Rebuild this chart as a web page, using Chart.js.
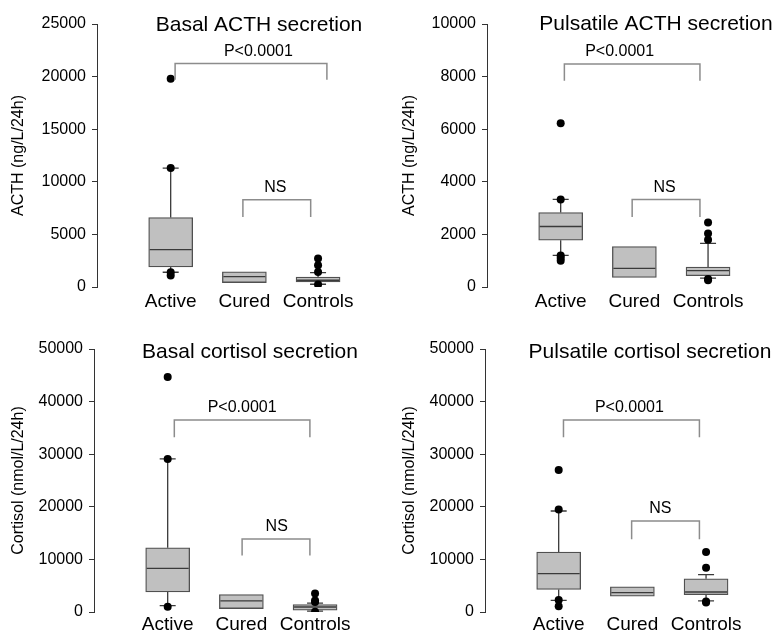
<!DOCTYPE html>
<html>
<head>
<meta charset="utf-8">
<script src="https://cdn.jsdelivr.net/npm/chart.js@4.4.1/dist/chart.umd.min.js"></script>
<style>
  body { margin: 0; background: #fff; }
  canvas { position: absolute; }
</style>
</head>
<body>
<canvas id="p1" width="391" height="317" style="left:0;top:0"></canvas>
<canvas id="p2" width="391" height="317" style="left:391px;top:0"></canvas>
<canvas id="p3" width="391" height="318" style="left:0;top:317px"></canvas>
<canvas id="p4" width="391" height="318" style="left:391px;top:317px"></canvas>
<script>
const categories = ['Active', 'Cured', 'Controls']
const positions = [1, 2, 3]

// Basal ACTH secretion (ng/L/24h)
const acthBasalQ1 = [1900, 420, 480]
const acthBasalMedian = [3550, 990, 640]
const acthBasalQ3 = [6600, 1450, 950]
const acthBasalLow = [1400, null, 260]
const acthBasalHigh = [11300, null, 1370]
const acthBasalOutliers = [[19800, 11300, 1400, 1100], [], [2700, 2070, 1430, 230]]
const acthBasalTicks = [0, 5000, 10000, 15000, 20000, 25000]

// Pulsatile ACTH secretion (ng/L/24h)
const acthPulseQ1 = [1780, 360, 430]
const acthPulseMedian = [2300, 710, 620]
const acthPulseQ3 = [2830, 1540, 760]
const acthPulseLow = [1200, null, 340]
const acthPulseHigh = [3330, null, 1660]
const acthPulseOutliers = [[6230, 3330, 1200, 1100, 1000], [], [2450, 2030, 1800, 300, 260]]
const acthPulseTicks = [0, 2000, 4000, 6000, 8000, 10000]

// Basal cortisol secretion (nmol/L/24h)
const cortBasalQ1 = [3800, 650, 350]
const cortBasalMedian = [8300, 2100, 950]
const cortBasalQ3 = [12200, 3300, 1400]
const cortBasalLow = [1200, null, 150]
const cortBasalHigh = [29100, null, 1700]
const cortBasalOutliers = [[44700, 29100, 1000], [], [3500, 2200, 1900, 50]]
const cortBasalTicks = [0, 10000, 20000, 30000, 40000, 50000]

// Pulsatile cortisol secretion (nmol/L/24h)
const cortPulseQ1 = [4300, 3000, 3300]
const cortPulseMedian = [7300, 3700, 3800]
const cortPulseQ3 = [11400, 4800, 6300]
const cortPulseLow = [2200, null, 2100]
const cortPulseHigh = [19200, null, 7100]
const cortPulseOutliers = [[27000, 19500, 2300, 1100], [], [11400, 8400, 2000, 1800]]
const cortPulseTicks = [0, 10000, 20000, 30000, 40000, 50000]

// significance brackets: [label, from, to, top, foot, labelX]
const acthBasalSig = [['P<0.0001', 1.06, 3.12, 21250, 19700, 2.19], ['NS', 1.98, 2.9, 8300, 6650, 2.42]]
const acthPulseSig = [['P<0.0001', 1.05, 2.89, 8480, 7840, 1.8], ['NS', 1.97, 2.89, 3330, 2665, 2.41]]
const cortBasalSig = [['P<0.0001', 1.09, 2.93, 36500, 33200, 2.01], ['NS', 2.01, 2.93, 13900, 10750, 2.48]]
const cortPulseSig = [['P<0.0001', 1.065, 2.91, 36500, 33200, 1.96], ['NS', 1.99, 2.91, 17300, 13850, 2.38]]

const FONT = "'Liberation Sans', Arial, sans-serif"
Chart.defaults.font.family = FONT
Chart.defaults.color = '#000'

const boxExtras = {
  id: 'boxExtras',
  afterDatasetDraw(chart, args, o) {
    if (args.index !== 0) return
    const ctx = chart.ctx
    const x = chart.scales.x
    const y = chart.scales.y
    ctx.save()
    ctx.strokeStyle = '#3a3a3a'
    ctx.lineWidth = 1.3
    positions.forEach((p, i) => {
      const cx = x.getPixelForValue(p)
      ctx.beginPath()
      ctx.moveTo(cx - 21, y.getPixelForValue(o.median[i]))
      ctx.lineTo(cx + 21, y.getPixelForValue(o.median[i]))
      if (o.high[i] != null) {
        const hy = y.getPixelForValue(o.high[i])
        ctx.moveTo(cx, y.getPixelForValue(o.q3[i]))
        ctx.lineTo(cx, hy)
        ctx.moveTo(cx - 8, hy)
        ctx.lineTo(cx + 8, hy)
      }
      if (o.low[i] != null) {
        const ly = y.getPixelForValue(o.low[i])
        ctx.moveTo(cx, y.getPixelForValue(o.q1[i]))
        ctx.lineTo(cx, ly)
        ctx.moveTo(cx - 8, ly)
        ctx.lineTo(cx + 8, ly)
      }
      ctx.stroke()
    })
    ctx.restore()
  },
  afterDraw(chart, args, o) {
    const ctx = chart.ctx
    const x = chart.scales.x
    const y = chart.scales.y
    ctx.save()
    o.sig.forEach(s => {
      const x1 = x.getPixelForValue(s[1])
      const x2 = x.getPixelForValue(s[2])
      const top = y.getPixelForValue(s[3])
      const foot = y.getPixelForValue(s[4])
      ctx.strokeStyle = '#8c8c8c'
      ctx.lineWidth = 1.5
      ctx.beginPath()
      ctx.moveTo(x1, foot)
      ctx.lineTo(x1, top)
      ctx.lineTo(x2, top)
      ctx.lineTo(x2, foot)
      ctx.stroke()
      ctx.fillStyle = '#000'
      ctx.font = '16px ' + FONT
      ctx.textAlign = 'center'
      ctx.textBaseline = 'middle'
      ctx.fillText(s[0], x.getPixelForValue(s[5]), top - 12)
    })
    ctx.font = '21px ' + FONT
    ctx.textAlign = 'center'
    ctx.textBaseline = 'middle'
    ctx.fillStyle = '#000'
    ctx.fillText(o.title, o.titleX, o.titleY)
    ctx.restore()
  }
}

function boxChart(id, p) {
  new Chart(document.getElementById(id), {
    type: 'bar',
    data: {
      datasets: [
        {
          type: 'bar',
          data: positions.map((pos, i) => ({x: pos, y: [p.q1[i], p.q3[i]]})),
          backgroundColor: '#c0c0c0',
          borderColor: '#505050',
          borderWidth: 1.3,
          borderSkipped: false,
          barThickness: 44,
          order: 0
        },
        {
          type: 'scatter',
          data: p.outliers.flatMap((vals, i) => vals.map(v => ({x: positions[i], y: v}))),
          pointRadius: 4,
          pointBackgroundColor: '#000',
          pointBorderWidth: 0,
          order: -1
        }
      ]
    },
    options: {
      responsive: false,
      animation: false,
      layout: { padding: { left: 0, right: p.padRight, top: p.top, bottom: 0 } },
      plugins: {
        legend: { display: false },
        tooltip: { enabled: false },
        boxExtras: {
          q1: p.q1, q3: p.q3, median: p.median, low: p.low, high: p.high,
          sig: p.sig, title: p.title, titleX: p.titleX, titleY: p.titleY
        }
      },
      scales: {
        x: {
          type: 'linear',
          min: 0,
          max: 3.8,
          offset: false,
          grid: { display: false, drawTicks: false },
          border: { display: false },
          afterBuildTicks: s => { s.ticks = positions.map(v => ({value: v})) },
          afterFit: s => { s.height = p.xHeight },
          ticks: {
            padding: p.xPad,
            font: { size: 19 },
            callback: v => categories[positions.indexOf(v)]
          }
        },
        y: {
          min: p.ticks[0],
          max: p.ticks[p.ticks.length - 1],
          grid: { drawOnChartArea: false, drawTicks: true, tickLength: 5, color: '#333' },
          border: { display: true, color: '#333', width: 1 },
          afterBuildTicks: s => { s.ticks = p.ticks.map(v => ({value: v})) },
          afterFit: s => { s.width = p.axisX },
          ticks: { padding: 6, font: { size: 16 }, callback: v => String(v) },
          title: { display: true, text: p.yTitle, font: { size: 16 }, padding: { top: 9, bottom: 0 } }
        }
      }
    },
    plugins: [boxExtras]
  })
}

boxChart('p1', {
  q1: acthBasalQ1, median: acthBasalMedian, q3: acthBasalQ3, low: acthBasalLow, high: acthBasalHigh,
  outliers: acthBasalOutliers, ticks: acthBasalTicks, sig: acthBasalSig,
  title: 'Basal ACTH secretion', yTitle: 'ACTH (ng/L/24h)',
  titleX: 259, titleY: 25, axisX: 97, padRight: 14, top: 24, xHeight: 30, xPad: 3
})
boxChart('p2', {
  q1: acthPulseQ1, median: acthPulseMedian, q3: acthPulseQ3, low: acthPulseLow, high: acthPulseHigh,
  outliers: acthPulseOutliers, ticks: acthPulseTicks, sig: acthPulseSig,
  title: 'Pulsatile ACTH secretion', yTitle: 'ACTH (ng/L/24h)',
  titleX: 265, titleY: 24, axisX: 96, padRight: 15, top: 24, xHeight: 30, xPad: 3
})
boxChart('p3', {
  q1: cortBasalQ1, median: cortBasalMedian, q3: cortBasalQ3, low: cortBasalLow, high: cortBasalHigh,
  outliers: cortBasalOutliers, ticks: cortBasalTicks, sig: cortBasalSig,
  title: 'Basal cortisol secretion', yTitle: 'Cortisol (nmol/L/24h)',
  titleX: 250, titleY: 35, axisX: 94, padRight: 17, top: 32, xHeight: 23, xPad: 1
})
boxChart('p4', {
  q1: cortPulseQ1, median: cortPulseMedian, q3: cortPulseQ3, low: cortPulseLow, high: cortPulseHigh,
  outliers: cortPulseOutliers, ticks: cortPulseTicks, sig: cortPulseSig,
  title: 'Pulsatile cortisol secretion', yTitle: 'Cortisol (nmol/L/24h)',
  titleX: 259, titleY: 35, axisX: 94, padRight: 17, top: 32, xHeight: 23, xPad: 1
})
</script>
</body>
</html>
